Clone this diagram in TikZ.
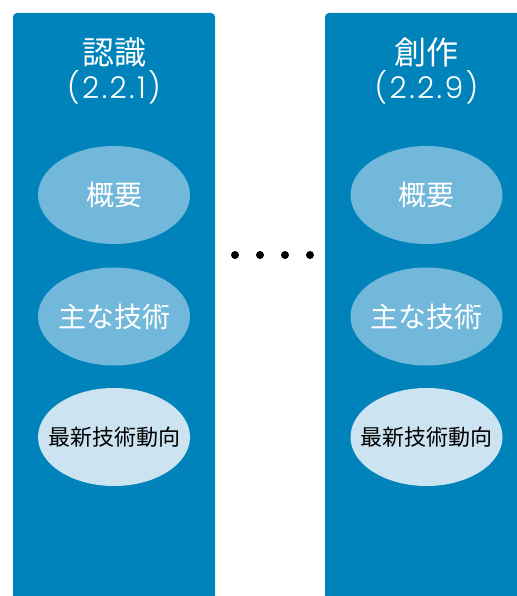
\documentclass[tikz,border=0pt]{standalone}
\usepackage{fontspec}
\setmainfont{Noto Sans CJK JP}
\newfontfamily\geo[LetterSpace=8]{Poppins Light}
\usetikzlibrary{shapes.geometric}
\definecolor{panelblue}{HTML}{0083BA}
\definecolor{midblue}{HTML}{72B8DB}
\definecolor{paleblue}{HTML}{CCE4F1}
\tikzset{
  panel/.style={fill=panelblue, rounded corners=4pt},
  oval/.style={ellipse, minimum width=152pt, minimum height=98pt, inner sep=0pt, fill=midblue},
  paleoval/.style={oval, fill=paleblue},
  ovaltext/.style={inner sep=0pt, text=white, font=\fontsize{28}{30}\selectfont},
  paletext/.style={inner sep=0pt, text=black, font=\fontsize{22}{24}\selectfont},
  titletext/.style={text=white, inner sep=0pt, font=\fontsize{32}{34}\selectfont},
  numtext/.style={text=white, inner sep=0pt, font=\geo\fontsize{30}{32}\selectfont},
  dotmark/.style={circle, fill=black, minimum size=8pt, inner sep=0pt}
}
\begin{document}
\begin{tikzpicture}[x=1pt,y=-1pt]
\useasboundingbox (0,0) rectangle (516,596);
\fill[white] (0,0) rectangle (516,596);
% panels
\fill[panel] (13,620) -- (13,13) -- (215,13) -- (215,620) -- cycle;
\fill[panel] (325,620) -- (325,13) -- (540,13) -- (540,620) -- cycle;
% titles
\node[titletext] (t1) at (114,52) {認識};
\node[numtext] (n1) at (114,87) {(2.2.1)};
\node[titletext] (t2) at (426.5,52) {創作};
\node[numtext] (n2) at (426.5,87) {(2.2.9)};
% ellipses left
\node[oval] (a1) at (114,195) {};
\node[ovaltext] (a1t) at (a1) {概要};
\node[oval] (a2) at (114,316.5) {};
\node[ovaltext] (a2t) at (a2) {主な技術};
\node[paleoval] (a3) at (114,437) {};
\node[paletext] (a3t) at (a3) {最新技術動向};
% ellipses right
\node[oval] (b1) at (426.5,195) {};
\node[ovaltext] (b1t) at (b1) {概要};
\node[oval] (b2) at (426.5,316.5) {};
\node[ovaltext] (b2t) at (b2) {主な技術};
\node[paleoval] (b3) at (426.5,437) {};
\node[paletext] (b3t) at (b3) {最新技術動向};
% dots
\node[dotmark] (d1) at (235,255) {};
\node[dotmark] (d2) at (260,255) {};
\node[dotmark] (d3) at (285,255) {};
\node[dotmark] (d4) at (310,255) {};
\end{tikzpicture}
\end{document}
